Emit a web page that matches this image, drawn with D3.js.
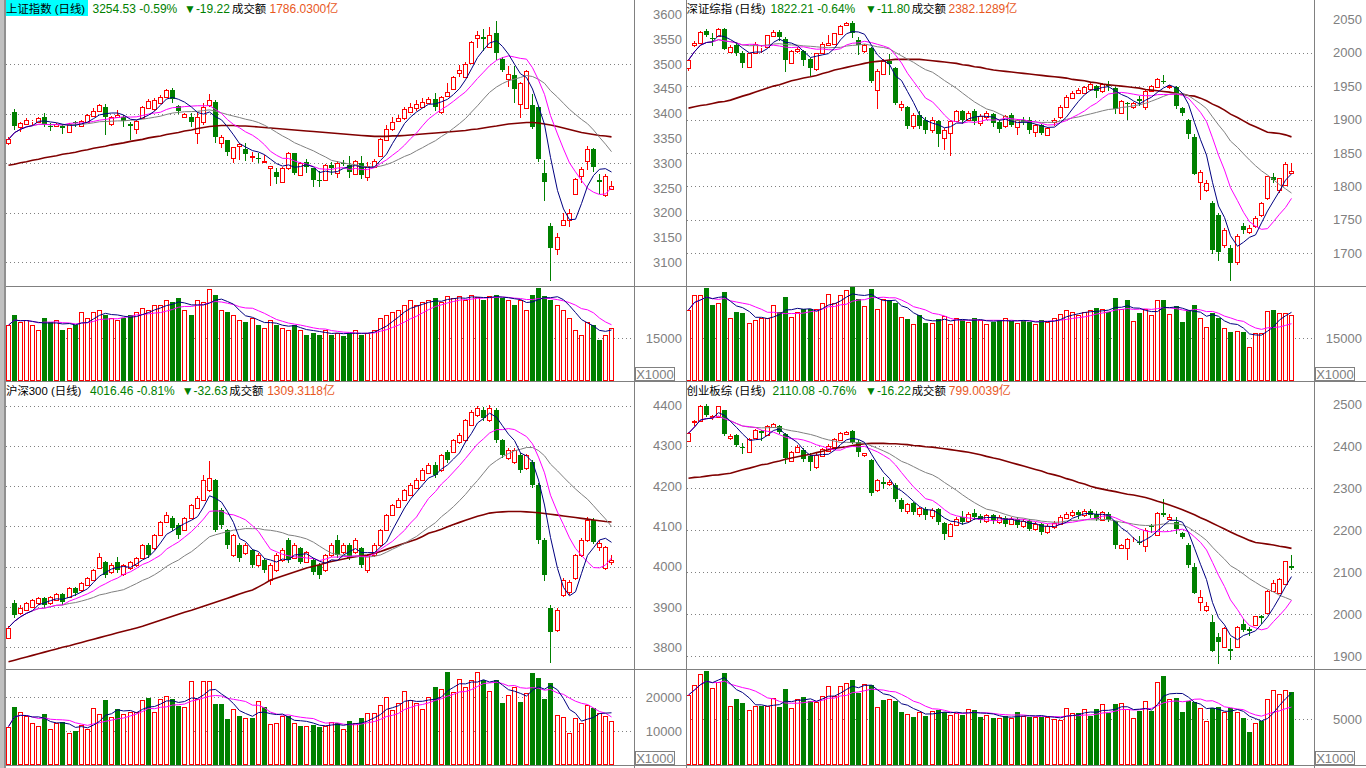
<!DOCTYPE html>
<html><head><meta charset="utf-8">
<script src="https://cdn.jsdelivr.net/npm/d3@7/dist/d3.min.js"></script>
<style>
html,body{margin:0;padding:0;background:#fff;overflow:hidden}
text{font-family:"Liberation Sans","Noto Sans CJK SC",sans-serif}
</style></head><body>
<svg id="chart" width="1366" height="768"></svg>
<script>
// ===== 上证指数 =====
const shOHLC=[[3340,3353,3337,3348],[3404,3409,3368,3375],[3372,3384,3362,3382],[3380,3392,3378,3388],[3385,3387,3377,3386],[3384,3394,3382,3391],[3393,3401,3375,3379],[3375,3382,3366,3372],[3374,3382,3372,3380],[3375,3379,3360,3371],
[3362,3381,3360,3379],[3384,3385,3375,3381],[3375,3388,3373,3386],[3384,3399,3382,3397],[3396,3411,3394,3406],[3405,3419,3403,3417],[3414,3419,3358,3393],[3379,3395,3375,3393],[3393,3407,3392,3397],[3393,3397,3374,3386],
[3379,3384,3348,3374],[3368,3388,3358,3386],[3391,3415,3389,3413],[3411,3429,3409,3425],[3409,3431,3406,3427],[3422,3437,3420,3434],[3434,3450,3432,3448],[3448,3452,3424,3429],[3415,3418,3402,3406],[3393,3401,3391,3399],
[3394,3401,3374,3384],[3360,3404,3338,3393],[3384,3421,3377,3413],[3417,3439,3414,3427],[3424,3427,3343,3352],[3340,3357,3330,3352],[3347,3347,3316,3323],[3310,3333,3300,3332],[3335,3341,3306,3339],[3328,3340,3306,3318],
[3313,3323,3303,3315],[3311,3320,3303,3309],[3302,3317,3301,3305],[3290,3295,3255,3294],[3283,3290,3261,3273],[3263,3293,3260,3290],[3290,3323,3286,3321],[3320,3321,3278,3281],[3276,3303,3274,3301],[3303,3308,3283,3293],
[3290,3290,3255,3266],[3267,3284,3255,3264],[3266,3298,3264,3296],[3296,3303,3278,3290],[3280,3305,3270,3300],[3300,3306,3296,3298],[3296,3314,3273,3283],[3278,3307,3276,3305],[3301,3314,3270,3276],[3272,3303,3265,3294],
[3293,3308,3291,3305],[3315,3350,3313,3348],[3347,3377,3345,3368],[3369,3393,3365,3384],[3386,3397,3384,3391],[3391,3414,3387,3409],[3404,3421,3402,3413],[3411,3427,3406,3419],[3414,3431,3413,3424],[3422,3434,3419,3429],
[3429,3441,3407,3413],[3403,3436,3400,3434],[3436,3462,3433,3444],[3449,3475,3447,3473],[3481,3498,3474,3488],[3474,3505,3473,3501],[3503,3547,3501,3545],[3552,3567,3532,3558],[3554,3570,3528,3550],[3535,3574,3534,3558],
[3562,3587,3511,3523],[3511,3515,3486,3488],[3469,3495,3454,3480],[3478,3495,3424,3449],[3419,3464,3391,3461],[3411,3488,3409,3486],[3417,3439,3370,3372],[3414,3415,3305,3308],[3280,3306,3226,3263],[3173,3180,3065,3130],
[3128,3159,3114,3152],[3175,3199,3175,3186],[3185,3207,3172,3199],[3237,3270,3235,3268],[3274,3293,3261,3288],[3305,3335,3286,3328],[3328,3330,3285,3293],[3266,3278,3239,3262],[3236,3278,3231,3273.75],[3248,3265,3246,3254.53]];
const shVol=[19500,23000,20600,21300,19500,17800,22000,20600,21300,17800,18500,19500,24100,22000,24100,24800,23000,22000,21300,22000,
23000,24100,25500,24800,26500,26500,28300,27600,29000,24800,23000,28300,27600,32100,30000,24800,24100,23000,21300,20600,
22000,19500,18500,21300,19500,18500,17800,19500,17800,16100,16800,16100,17800,16100,16800,15700,16800,17800,16100,16800,
17800,22000,23000,24100,24800,26500,28300,26500,27600,28300,29000,27600,29700,29000,29700,28300,30000,29300,28300,29700,
30000,29000,28300,26500,28300,24800,30000,32500,29700,28300,26500,24800,22000,17800,16100,20600,19500,14300,16100,18500];
const shLongMA=[3296,3298,3301,3303,3306,3308,3311,3313,3315,3318,3320,3322,3325,3327,3330,3332,3334,3337,3339,3341,
3344,3346,3348,3351,3353,3355,3358,3360,3362,3365,3367,3370,3372,3374,3375,3376,3376,3376,3375,3375,
3374,3373,3372,3371,3370,3369,3368,3367,3366,3365,3364,3363,3362,3361,3360,3359,3358,3357,3356,3355,
3354,3354,3354,3355,3355,3356,3357,3358,3359,3360,3361,3362,3363,3364,3365,3366,3368,3369,3371,3373,
3375,3377,3379,3380,3381,3382,3382,3381,3379,3377,3374,3371,3368,3365,3362,3360,3358,3356,3355,3353];
const shTicks=[3600,3550,3500,3450,3400,3350,3300,3250,3200,3150,3100];
const shGrid=[3500,3400,3300,3200,3100];
const shVolTicks=[15000];

// ===== 深证综指 =====
const szOHLC=[[1977,1990,1973,1989],[2012,2018,2009,2014],[2014,2032,2013,2031],[2033,2036,2025,2027],[2022,2029,2012,2020],[2025,2037,2024,2036],[2036,2037,2005,2006],[2001,2012,2000,2009],[2011,2016,1996,2000],[2000,2002,1979,1984],
[1979,2000,1978,1999],[2000,2016,1999,2013],[2008,2012,2000,2009],[2009,2027,2007,2026],[2025,2034,2024,2031],[2031,2034,2019,2023],[2021,2023,1973,1989],[1985,2004,1984,2003],[2002,2008,2000,2006],[2002,2004,1982,1989],
[1990,1992,1967,1977],[1975,2000,1972,1999],[2000,2016,1998,2013],[2012,2026,2011,2015],[2013,2030,2011,2029],[2028,2042,2026,2040],[2041,2046,2040,2045],[2045,2047,2023,2029],[2019,2023,1998,2012],[2002,2013,2000,2012],
[2007,2008,1956,1957],[1944,1975,1915,1973],[1968,1990,1966,1988],[1987,1998,1968,1983],[1977,1979,1923,1925],[1918,1927,1913,1923],[1918,1920,1888,1890],[1890,1910,1886,1907],[1907,1912,1888,1890],[1900,1903,1880,1885],
[1884,1903,1880,1900],[1898,1900,1860,1878],[1872,1888,1855,1885],[1880,1900,1846,1898],[1898,1914,1896,1912],[1912,1914,1895,1900],[1900,1912,1898,1910],[1912,1915,1893,1898],[1895,1908,1890,1905],[1903,1912,1900,1910],
[1908,1910,1890,1895],[1897,1899,1882,1886],[1890,1907,1888,1905],[1907,1909,1890,1892],[1889,1901,1877,1899],[1900,1904,1893,1897],[1899,1904,1880,1885],[1882,1893,1874,1892],[1892,1894,1879,1880],[1877,1889,1875,1887],
[1896,1902,1890,1899],[1903,1921,1901,1919],[1919,1936,1917,1934],[1932,1942,1930,1940],[1939,1947,1938,1944],[1940,1950,1938,1948],[1945,1955,1943,1953],[1950,1952,1933,1942],[1942,1955,1940,1953],[1952,1958,1944,1950],
[1947,1948,1910,1915],[1910,1929,1908,1927],[1925,1926,1901,1923],[1918,1926,1916,1924],[1930,1935,1922,1928],[1918,1944,1914,1942],[1943,1952,1941,1950],[1949,1962,1947,1960],[1958,1966,1954,1956],[1948,1952,1946,1950],
[1949,1950,1917,1920],[1917,1919,1907,1909],[1900,1901,1873,1879],[1874,1879,1818,1819],[1807,1824,1779,1822],[1795,1809,1792,1805],[1775,1778,1700,1705],[1757,1760,1690,1701],[1712,1737,1708,1734],[1708,1712,1660,1685],
[1687,1728,1682,1726],[1740,1745,1730,1735],[1732,1742,1728,1738],[1740,1755,1737,1752],[1757,1777,1754,1775],[1782,1816,1780,1815],[1814,1820,1807,1810],[1794,1813,1790,1812],[1802,1836,1800,1834.01],[1820,1835,1819,1822.21]];
const szVol=[24800,30000,30000,32300,26500,27100,31200,21900,24200,23600,20100,21300,21900,21900,26500,24200,29400,22400,24200,25000,
25000,25000,27100,30400,27100,30000,31800,32700,28500,26200,32100,25000,28500,28300,27100,22200,21500,19900,23000,20300,
20300,21500,22700,19900,22000,21300,20600,22000,21300,19900,20600,21300,22000,20900,20200,21300,20600,19900,21300,20600,
22000,23400,24800,24100,23000,24100,24800,25500,25000,24200,28900,25000,28300,21000,23800,25000,23000,28300,28300,23400,
26200,20700,24800,26500,21900,19000,23600,21900,18400,17200,17500,17200,11800,16600,16900,24400,24800,23800,23800,23000];
const szLongMA=[1917,1919,1921,1922,1924,1926,1927,1929,1932,1935,1938,1941,1944,1947,1950,1952,1955,1958,1960,1962,
1964,1966,1969,1971,1974,1976,1978,1980,1982,1984,1986,1987,1988,1989,1990,1990,1990,1990,1990,1989,
1988,1987,1986,1985,1984,1982,1981,1979,1978,1976,1974,1973,1972,1971,1970,1969,1968,1967,1966,1965,
1964,1963,1962,1960,1959,1958,1956,1955,1953,1952,1951,1950,1949,1948,1947,1945,1944,1943,1942,1941,
1939,1938,1936,1935,1932,1928,1923,1919,1914,1908,1903,1898,1893,1889,1885,1881,1880,1879,1877,1874];
const szTicks=[2050,2000,1950,1900,1850,1800,1750,1700];
const szGrid=[2000,1950,1900,1850,1800,1750,1700];
const szVolTicks=[15000];

// ===== 沪深300 =====
const hsOHLC=[[3824,3852,3820,3849],[3910,3918,3876,3880],[3885,3905,3880,3898],[3893,3913,3890,3910],[3900,3920,3897,3917],[3910,3925,3906,3922],[3922,3925,3900,3905],[3910,3927,3905,3925],[3917,3935,3914,3932],[3932,3935,3908,3912],
[3925,3950,3922,3947],[3947,3950,3930,3935],[3942,3962,3938,3960],[3955,3975,3952,3972],[3967,3995,3965,3992],[3997,4034,3995,4024],[4012,4015,3975,3979],[3987,4008,3983,4004],[4012,4025,3988,3992],[3982,4007,3978,4004],
[3997,4015,3992,4012],[4004,4025,4000,4022],[4022,4057,4020,4054],[4054,4060,4025,4029],[4046,4082,4042,4079],[4079,4114,4076,4111],[4111,4136,4108,4128],[4121,4125,4092,4096],[4104,4108,4072,4079],[4091,4124,4088,4121],
[4121,4156,4118,4153],[4146,4175,4143,4171],[4166,4228,4162,4215],[4190,4262,4186,4220],[4215,4218,4088,4091],[4141,4145,4095,4104],[4091,4094,4046,4054],[4029,4082,4025,4079],[4054,4058,4015,4022],[4034,4058,4030,4054],
[4041,4045,4000,4004],[4004,4034,4000,4029],[4017,4022,3988,3992],[3967,4008,3955,4004],[3992,4034,3988,4029],[4017,4046,4012,4041],[4066,4070,4012,4017],[4022,4058,4018,4054],[4046,4050,4008,4012],[4012,4040,4008,4036],
[4017,4022,3982,3987],[4004,4008,3972,3979],[3992,4032,3988,4029],[4029,4058,4025,4054],[4066,4079,4025,4029],[4036,4058,4032,4054],[4054,4058,4018,4022],[4036,4070,4032,4066],[4046,4050,4000,4004],[3992,4032,3985,4029],
[4029,4058,4025,4054],[4054,4094,4050,4091],[4091,4131,4088,4128],[4128,4156,4125,4153],[4148,4170,4145,4166],[4166,4194,4162,4190],[4178,4207,4175,4203],[4195,4220,4192,4215],[4215,4244,4212,4240],[4233,4257,4230,4252],
[4252,4260,4222,4228],[4240,4280,4236,4277],[4285,4290,4260,4265],[4285,4318,4282,4314],[4309,4331,4305,4327],[4314,4367,4310,4364],[4352,4388,4348,4384],[4376,4398,4372,4394],[4389,4396,4364,4369],[4364,4402,4360,4394],
[4389,4394,4310,4314],[4314,4318,4272,4277],[4270,4294,4266,4290],[4260,4294,4255,4290],[4277,4282,4236,4240],[4245,4280,4240,4277],[4260,4264,4198,4203],[4203,4207,4060,4066],[4066,4070,3967,3979],[3898,3905,3764,3838],
[3843,3898,3838,3893],[3930,3972,3925,3967],[3937,3967,3930,3962],[3972,4032,3967,4029],[4029,4070,4025,4066],[4066,4124,4062,4116],[4116,4120,4058,4062],[4049,4066,4040,4059],[3997,4052,3992,4049.09],[4012,4030,4005,4016.46]];
const hsVol=[11300,17000,15500,14400,12400,11500,15000,10600,12400,12700,9500,10100,11800,10600,16700,15000,19100,14000,16400,15000,
15700,15700,19100,19800,15700,19300,20300,19300,17400,17000,24600,19300,24600,24700,17900,17900,13400,16400,14400,13700,
13700,18900,17100,12100,12400,14400,14400,12400,11500,11500,11800,11300,11500,12700,12400,10500,12900,12300,13700,15200,
15400,17600,19900,16200,18100,21800,19100,18300,16400,19900,23000,22300,27400,21600,25200,22800,25000,27400,25000,21800,
25000,18300,20600,22800,18600,21100,27000,25500,19300,24000,14700,14200,9500,13700,12400,17600,16700,15200,14400,12900];
const hsLongMA=[3764,3768,3772,3776,3780,3784,3788,3792,3796,3800,3804,3808,3812,3816,3820,3824,3828,3832,3836,3840,
3844,3848,3852,3857,3862,3867,3872,3877,3882,3887,3892,3897,3902,3907,3912,3917,3922,3927,3932,3937,
3942,3950,3958,3967,3972,3977,3982,3987,3992,3997,4001,4005,4009,4013,4016,4019,4022,4025,4027,4029,
4033,4038,4043,4048,4053,4058,4063,4068,4075,4083,4088,4093,4099,4105,4110,4115,4120,4125,4129,4133,
4135,4136,4137,4137,4137,4136,4135,4134,4132,4130,4128,4126,4124,4122,4120,4118,4116,4114,4112,4111];
const hsTicks=[4400,4300,4200,4100,4000,3900,3800];
const hsGrid=[4400,4300,4200,4100,4000,3900,3800];
const hsVolTicks=[20000,10000];

// ===== 创业板综 =====
const cyOHLC=[[2413,2433,2411,2431],[2457,2462,2448,2461],[2461,2498,2459,2496],[2496,2500,2472,2475],[2469,2475,2462,2472],[2470,2497,2468,2496],[2486,2487,2427,2429],[2419,2430,2414,2425],[2427,2429,2400,2403],[2399,2407,2384,2395],
[2387,2419,2385,2417],[2419,2441,2417,2439],[2436,2440,2416,2432],[2427,2450,2425,2448],[2447,2455,2444,2453],[2448,2451,2431,2435],[2429,2431,2361,2371],[2366,2389,2364,2387],[2387,2403,2385,2398],[2391,2395,2364,2369],
[2377,2383,2343,2363],[2351,2383,2347,2379],[2377,2395,2375,2393],[2389,2405,2387,2401],[2398,2419,2396,2417],[2415,2433,2413,2431],[2429,2437,2427,2435],[2437,2440,2408,2411],[2411,2414,2377,2387],[2379,2385,2375,2383],
[2367,2370,2285,2290],[2296,2323,2292,2320],[2315,2328,2300,2310],[2310,2320,2305,2314],[2308,2312,2270,2275],[2272,2276,2245,2250],[2246,2266,2240,2262],[2264,2268,2238,2244],[2240,2256,2232,2252],[2250,2255,2228,2236],
[2234,2252,2228,2248],[2250,2253,2215,2220],[2218,2220,2180,2190],[2186,2218,2183,2215],[2212,2232,2210,2228],[2232,2245,2215,2220],[2222,2244,2218,2240],[2242,2250,2228,2232],[2234,2238,2220,2224],[2222,2240,2218,2236],
[2236,2240,2218,2222],[2220,2236,2215,2232],[2230,2234,2210,2215],[2216,2232,2212,2228],[2228,2232,2208,2212],[2210,2226,2206,2222],[2222,2226,2200,2204],[2204,2220,2198,2216],[2214,2218,2192,2196],[2196,2214,2192,2210],
[2208,2222,2204,2218],[2216,2236,2212,2232],[2230,2244,2226,2240],[2236,2248,2232,2244],[2244,2248,2230,2236],[2236,2250,2232,2246],[2246,2250,2232,2236],[2238,2246,2224,2228],[2225,2247,2222,2244],[2240,2244,2222,2225],
[2221,2223,2159,2166],[2157,2168,2155,2165],[2157,2181,2129,2179],[2172,2185,2169,2173],[2172,2186,2167,2170],[2163,2205,2149,2201],[2210,2215,2197,2208],[2189,2244,2187,2242],[2241,2275,2234,2236],[2226,2239,2224,2231],
[2220,2232,2193,2202],[2193,2197,2181,2185],[2165,2169,2113,2117],[2112,2121,2050,2051],[2030,2059,2009,2040],[2010,2030,2006,2020],[1982,1998,1913,1913],[1947,1955,1883,1935],[1923,1970,1921,1967],[1917,1944,1893,1913],
[1921,1971,1920,1970],[1977,1988,1961,1963],[1965,1969,1951,1961],[1975,1997,1973,1996],[1995,1998,1980,1992],[2002,2057,2001,2056],[2056,2082,2054,2074],[2051,2087,2049,2083],[2072,2127,2071,2126.3],[2114,2141,2107,2110.08]];
const cyVol=[7610,8700,9890,10220,8340,9050,10030,6410,7140,6770,5980,6410,6410,6410,7250,6340,8260,6160,7140,7420,
6990,6880,7500,8590,7500,8590,8880,9240,7790,8770,8700,6340,7070,7140,6960,5790,5540,5250,5790,5330,
5870,5980,5790,5440,5620,5440,6050,5980,5190,5440,5080,5080,5330,5080,5790,5330,5250,5250,5250,5250,
4970,4890,6160,5620,5620,6050,5330,6050,6600,5690,6600,6710,6050,5080,5900,6990,5870,8990,9670,7140,
7250,5790,6990,6880,6160,4820,6160,6270,5790,6160,5790,5140,3620,4530,4820,7140,8150,7720,8150,7900];
const cyLongMA=[2324,2326,2327,2329,2331,2332,2334,2336,2340,2344,2348,2352,2356,2358,2362,2365,2369,2372,2375,2378,
2381,2385,2388,2392,2395,2397,2399,2402,2404,2406,2407,2407,2407,2406,2406,2405,2404,2402,2401,2399,
2398,2396,2394,2392,2390,2388,2386,2383,2380,2376,2372,2369,2365,2361,2357,2353,2349,2345,2341,2336,
2332,2328,2323,2319,2314,2310,2305,2301,2298,2295,2292,2289,2286,2284,2281,2278,2274,2269,2265,2260,
2254,2249,2243,2237,2230,2224,2217,2210,2203,2196,2188,2182,2176,2171,2169,2167,2165,2162,2160,2157];
const cyTicks=[2500,2400,2300,2200,2100,2000,1900];
const cyGrid=[2400,2300,2200,2100,2000,1900];
const cyVolTicks=[5000];

// ===== title texts =====
const shTitle=['上证指数 (日线)','3254.53 -0.59%','▼-19.22','成交额','1786.0300亿'];
const szTitle=['深证综指 (日线)','1822.21 -0.64%','▼-11.80','成交额','2382.1289亿'];
const hsTitle=['沪深300 (日线)','4016.46 -0.81%','▼-32.63','成交额','1309.3118亿'];
const cyTitle=['创业板综 (日线)','2110.08 -0.76%','▼-16.22','成交额','799.0039亿'];

// ===== drawing =====
const svg=d3.select('#chart');
const RED='#ff0000', GRN='#008000', GRAY='#808080';
const TXTGREEN='#008000', ORANGE='#e8581e';
function movingAvg(a,n){return a.map((_,i)=>d3.mean(a.slice(Math.max(0,i-n+1),i+1)));}

svg.append('rect').attr('width',1366).attr('height',768).attr('fill','#fff');

function drawPanel(p){
  const n=p.ohlc.length;
  const x=d3.scaleBand().domain(d3.range(n)).range([p.bandL,p.bandL+610]);
  const left=i=>Math.round(x(i)+x.bandwidth()/2-2.5);
  const y=d3.scaleLinear().domain(p.yDom).range(p.yRng);
  const yv=d3.scaleLinear().domain(p.vDom).range([p.vBot,p.vRefY]);
  const g=svg.append('g');
  const cid='clip_'+p.key, vid='vclip_'+p.key;
  const defs=svg.append('defs');
  defs.append('clipPath').attr('id',cid).append('rect').attr('x',p.plotL).attr('y',p.pTop).attr('width',p.plotR-p.plotL).attr('height',p.pBot-p.pTop);
  defs.append('clipPath').attr('id',vid).append('rect').attr('x',p.plotL).attr('y',p.pBot+1).attr('width',p.plotR-p.plotL).attr('height',p.vBot-p.pBot-1);

  g.append('g').selectAll('line').data(p.grid).join('line')
    .attr('x1',p.plotL).attr('x2',p.plotR)
    .attr('y1',d=>Math.round(y(d))+0.5).attr('y2',d=>Math.round(y(d))+0.5)
    .attr('stroke',GRAY).attr('stroke-dasharray','1,3');
  g.append('g').selectAll('line').data(p.vTicks).join('line')
    .attr('x1',p.plotL).attr('x2',p.plotR)
    .attr('y1',d=>Math.round(yv(d))+0.5).attr('y2',d=>Math.round(yv(d))+0.5)
    .attr('stroke',GRAY).attr('stroke-dasharray','1,3');

  const cg=g.append('g').attr('clip-path',`url(#${cid})`).attr('shape-rendering','crispEdges');
  p.ohlc.forEach((d,i)=>{
    const [o,h,l,c]=d; const up=c>=o;
    const L=left(i), mx=L+2.5;
    const yt=Math.round(y(Math.max(o,c))), yb=Math.round(y(Math.min(o,c)));
    const yh=Math.round(y(h)), yl=Math.round(y(l));
    if(up){
      if(yh<yt) cg.append('line').attr('x1',mx).attr('x2',mx).attr('y1',yh).attr('y2',yt).attr('stroke',RED);
      if(yl>yb) cg.append('line').attr('x1',mx).attr('x2',mx).attr('y1',yb+1).attr('y2',yl).attr('stroke',RED);
      cg.append('rect').attr('x',L+0.5).attr('y',yt+0.5).attr('width',4).attr('height',Math.max(0,yb-yt))
        .attr('fill','#fff').attr('stroke',RED);
    } else {
      cg.append('line').attr('x1',mx).attr('x2',mx).attr('y1',yh).attr('y2',yl+1).attr('stroke',GRN);
      cg.append('rect').attr('x',L).attr('y',yt).attr('width',5).attr('height',Math.max(1,yb-yt)).attr('fill',GRN);
    }
  });
  const closes=p.ohlc.map(d=>d[3]);
  const line=d3.line().x((d,i)=>left(i)+2.5).y(d=>y(d));
  const mg=g.append('g').attr('clip-path',`url(#${cid})`).attr('fill','none');
  mg.append('path').attr('d',line(p.longMA)).attr('stroke','#800000').attr('stroke-width',1.6);
  mg.append('path').attr('d',line(movingAvg(closes,20))).attr('stroke',GRAY).attr('stroke-width',1);
  mg.append('path').attr('d',line(movingAvg(closes,10))).attr('stroke','#ff00ff').attr('stroke-width',1);
  mg.append('path').attr('d',line(movingAvg(closes,5))).attr('stroke','#000080').attr('stroke-width',1);

  const vg=g.append('g').attr('clip-path',`url(#${vid})`).attr('shape-rendering','crispEdges');
  p.vol.forEach((v,i)=>{
    const [o,,,c]=p.ohlc[i]; const up=c>=o; const L=left(i);
    const yt=Math.round(yv(v));
    if(up) vg.append('rect').attr('x',L+0.5).attr('y',yt+0.5).attr('width',4).attr('height',p.vBot-yt-1).attr('fill','#fff').attr('stroke',RED);
    else vg.append('rect').attr('x',L).attr('y',yt).attr('width',5).attr('height',p.vBot-yt).attr('fill',GRN);
  });
  const vline=d3.line().x((d,i)=>left(i)+2.5).y(d=>yv(d));
  const vm=g.append('g').attr('clip-path',`url(#${vid})`).attr('fill','none');
  vm.append('path').attr('d',vline(movingAvg(p.vol,10))).attr('stroke','#ff00ff');
  vm.append('path').attr('d',vline(movingAvg(p.vol,5))).attr('stroke','#000080');

  const ax=d3.axisLeft(y).tickValues(p.ticks).tickSize(0).tickPadding(0).tickFormat(d3.format('d'));
  const axg=svg.append('g').attr('transform',`translate(${p.labelX},0)`).call(ax);
  const vax=d3.axisLeft(yv).tickValues(p.vTicks).tickSize(0).tickPadding(0).tickFormat(d3.format('d'));
  const vaxg=svg.append('g').attr('transform',`translate(${p.labelX},0)`).call(vax);
  [axg,vaxg].forEach(a=>{a.select('.domain').remove();
    a.selectAll('text').attr('fill',GRAY).attr('font-size',13).attr('font-family','"Liberation Sans",Arial,sans-serif');});

  const bx=p.labelX-47, by=p.vBot-14;
  svg.append('rect').attr('x',bx+0.5).attr('y',by+0.5).attr('width',39).attr('height',13).attr('fill','#fff').attr('stroke',GRAY).attr('shape-rendering','crispEdges');
  svg.append('text').attr('x',bx+20).attr('y',by+11.5).attr('text-anchor','middle').attr('font-size',13).attr('fill',GRAY).text('X1000');

  const tcol=['#000',TXTGREEN,TXTGREEN,'#000',ORANGE];
  const tsize=[11.4,12,12,11.4,12];
  if(p.titleBg) svg.append('rect').attr('x',p.titleX[0]-1).attr('y',p.pTop).attr('width',83).attr('height',16).attr('fill','#00ffff');
  p.title.forEach((t,k)=>{
    svg.append('text').attr('x',p.titleX[k]).attr('y',p.pTop+13).attr('font-size',tsize[k]).attr('fill',tcol[k]).text(t);
  });
}

const panels=[
 {key:'sh',ohlc:shOHLC,vol:shVol,longMA:shLongMA,ticks:shTicks,grid:shGrid,vTicks:shVolTicks,title:shTitle,titleBg:true,
  bandL:5,plotL:6,plotR:634,pTop:0,pBot:286,vBot:381,yDom:[3100,3500],yRng:[262.4,64],vDom:[0,15000],vRefY:338,labelX:682,
  titleX:[6,92.5,184,232,269.5]},
 {key:'sz',ohlc:szOHLC,vol:szVol,longMA:szLongMA,ticks:szTicks,grid:szGrid,vTicks:szVolTicks,title:szTitle,titleBg:false,
  bandL:685,plotL:687,plotR:1314,pTop:0,pBot:286,vBot:381,yDom:[1700,2000],yRng:[253.1,52.7],vDom:[0,15000],vRefY:338,labelX:1362,
  titleX:[686.5,770.5,865,911.7,948.5]},
 {key:'hs',ohlc:hsOHLC,vol:hsVol,longMA:hsLongMA,ticks:hsTicks,grid:hsGrid,vTicks:hsVolTicks,title:hsTitle,titleBg:false,
  bandL:5,plotL:6,plotR:634,pTop:382,pBot:669,vBot:765,yDom:[3800,4400],yRng:[647.3,405.5],vDom:[0,20000],vRefY:697,labelX:682,
  titleX:[6,90,181.7,229.3,267.2]},
 {key:'cy',ohlc:cyOHLC,vol:cyVol,longMA:cyLongMA,ticks:cyTicks,grid:cyGrid,vTicks:cyVolTicks,title:cyTitle,titleBg:false,
  bandL:685,plotL:687,plotR:1314,pTop:382,pBot:669,vBot:765,yDom:[1900,2500],yRng:[656.3,404.3],vDom:[0,5000],vRefY:719,labelX:1362,
  titleX:[686.5,772.5,865,911.7,948.8]}
];
panels.forEach(drawPanel);

const fr=svg.append('g').attr('stroke',GRAY).attr('shape-rendering','crispEdges');
[286.5,381.5,669.5,765.5].forEach(yy=>fr.append('line').attr('x1',5).attr('x2',1366).attr('y1',yy).attr('y2',yy));
[634.5,686.5,1314.5].forEach(xx=>fr.append('line').attr('x1',xx).attr('x2',xx).attr('y1',0).attr('y2',768));
svg.append('rect').attr('x',0).attr('y',0).attr('width',4).attr('height',768).attr('fill','#c0c0c0');
svg.append('rect').attr('x',4).attr('y',0).attr('width',2).attr('height',768).attr('fill','#909090');
</script></body></html>
